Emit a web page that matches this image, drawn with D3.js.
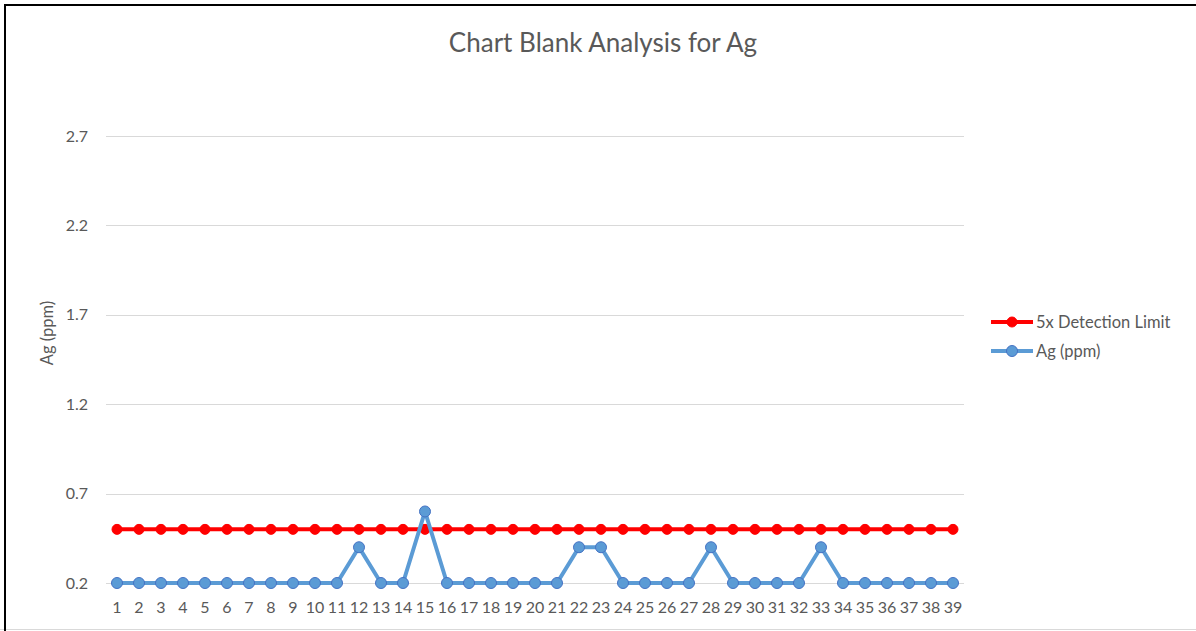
<!DOCTYPE html>
<html>
<head>
<meta charset="utf-8">
<script src="https://cdn.jsdelivr.net/npm/d3@7"></script>
<style>
  body { margin: 0; background: #fff; }
  svg { font-family: Lato, "Open Sans", sans-serif; }
</style>
</head>
<body>
<div id="chart"></div>
<script>
const samples = d3.range(1, 40);
const detectionLimit = [0.5,0.5,0.5,0.5,0.5,0.5,0.5,0.5,0.5,0.5,0.5,0.5,0.5,0.5,0.5,0.5,0.5,0.5,0.5,0.5,
  0.5,0.5,0.5,0.5,0.5,0.5,0.5,0.5,0.5,0.5,0.5,0.5,0.5,0.5,0.5,0.5,0.5,0.5,0.5];
const agPpm = [0.2,0.2,0.2,0.2,0.2,0.2,0.2,0.2,0.2,0.2,0.2,0.4,0.2,0.2,0.6,0.2,0.2,0.2,0.2,0.2,
  0.2,0.4,0.4,0.2,0.2,0.2,0.2,0.4,0.2,0.2,0.2,0.2,0.4,0.2,0.2,0.2,0.2,0.2,0.2];
const yTicks = [0.2, 0.7, 1.2, 1.7, 2.2, 2.7];

const width = 1196, height = 631;
const plot = { left: 106, right: 964, top: 136, bottom: 583 };

const svg = d3.select("#chart").append("svg")
  .attr("width", width).attr("height", height);

// frame
svg.append("line").attr("x1", 0).attr("x2", width).attr("y1", 629.5).attr("y2", 629.5)
  .attr("stroke", "#d9d9d9");
svg.append("line").attr("x1", 4).attr("x2", width).attr("y1", 5).attr("y2", 5)
  .attr("stroke", "#000").attr("stroke-width", 2);
svg.append("line").attr("x1", 5).attr("x2", 5).attr("y1", 4).attr("y2", 631)
  .attr("stroke", "#000").attr("stroke-width", 2);

const x = d3.scaleBand().domain(samples).range([plot.left, plot.right]);
const y = d3.scaleLinear().domain([0.2, 2.7]).range([plot.bottom, plot.top]);
const cx = d => x(d) + x.bandwidth() / 2;

// gridlines
svg.append("g").selectAll("line").data(yTicks).enter().append("line")
  .attr("x1", plot.left).attr("x2", plot.right)
  .attr("y1", d => Math.round(y(d)) + 0.5).attr("y2", d => Math.round(y(d)) + 0.5)
  .attr("stroke", "#d9d9d9").attr("stroke-width", 1);

// y tick labels
svg.append("g").selectAll("text").data(yTicks).enter().append("text")
  .attr("x", 88).attr("y", d => y(d)).attr("dy", "0.35em")
  .attr("text-anchor", "end").attr("font-size", 16).attr("fill", "#595959")
  .text(d => d.toFixed(1));

// x tick labels
svg.append("g").selectAll("text").data(samples).enter().append("text")
  .attr("x", cx).attr("y", 607).attr("dy", "0.35em")
  .attr("text-anchor", "middle").attr("font-size", 16).attr("fill", "#595959")
  .text(d => d);

// title
svg.append("text").attr("x", 603).attr("y", 43).attr("dy", "0.35em")
  .attr("text-anchor", "middle").attr("font-size", 26).attr("fill", "#595959")
  .text("Chart Blank Analysis for Ag");

// y-axis title
svg.append("text").attr("transform", "translate(47,333) rotate(-90)")
  .attr("dy", "0.35em").attr("text-anchor", "middle")
  .attr("font-size", 16.5).attr("fill", "#595959")
  .text("Ag (ppm)");

const line = d3.line().x((d, i) => cx(samples[i])).y(d => y(d));

const series = [
  { name: "5x Detection Limit", values: detectionLimit, color: "#ff0000", stroke: "#ff0000", r: 5 },
  { name: "Ag (ppm)", values: agPpm, color: "#5b9bd5", stroke: "#4472c4", r: 5.5 }
];

series.forEach(s => {
  svg.append("path").datum(s.values)
    .attr("d", line).attr("fill", "none")
    .attr("stroke", s.color).attr("stroke-width", 4).attr("stroke-linejoin", "round");
  svg.append("g").selectAll("circle").data(s.values).enter().append("circle")
    .attr("cx", (d, i) => cx(samples[i])).attr("cy", d => y(d))
    .attr("r", s.r).attr("fill", s.color)
    .attr("stroke", s.stroke).attr("stroke-width", 1);
});

// legend
const legend = svg.append("g").selectAll("g").data(series).enter().append("g")
  .attr("transform", (d, i) => `translate(991,${322 + i * 29})`);
legend.append("line").attr("x1", 0).attr("x2", 42)
  .attr("stroke", d => d.color).attr("stroke-width", 4);
legend.append("circle").attr("cx", 21).attr("r", d => d.r)
  .attr("fill", d => d.color).attr("stroke", d => d.stroke).attr("stroke-width", 1);
legend.append("text").attr("x", 45).attr("dy", "0.35em")
  .attr("font-size", 16.5).attr("fill", "#595959").text(d => d.name);
</script>
</body>
</html>
